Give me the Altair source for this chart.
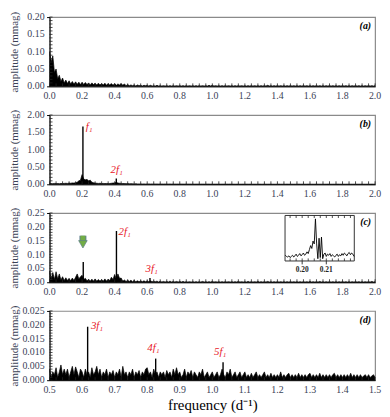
import altair as alt
import numpy as np
import pandas as pd

W, H = 329, 70
SERIF = "Liberation Serif"
LABEL_COLOR = "#3b4256"
RED = "#e8202a"

# ---------------- data ----------------
freq_abc = np.round(np.arange(0, 2.0001, 0.01), 3)
freq_d = np.round(np.arange(0.5, 1.5001, 0.005), 4)

amp_a = [
    0.100, 0.070, 0.088, 0.040, 0.050, 0.022, 0.032, 0.014, 0.024, 0.010,
    0.018, 0.008, 0.016, 0.007, 0.014, 0.006, 0.013, 0.006, 0.012, 0.005,
    0.012, 0.005, 0.011, 0.005, 0.010, 0.004, 0.010, 0.005, 0.009, 0.004,
    0.009, 0.004, 0.008, 0.004, 0.009, 0.003, 0.008, 0.004, 0.008, 0.003,
    0.008, 0.003, 0.007, 0.004, 0.008, 0.003, 0.007, 0.002, 0.005, 0.002,
    0.004, 0.002, 0.004, 0.001, 0.004, 0.002, 0.003, 0.001, 0.003, 0.002,
    0.003, 0.001, 0.003, 0.001, 0.002, 0.001, 0.003, 0.001, 0.002, 0.001,
    0.002, 0.001, 0.002, 0.001, 0.002, 0.001, 0.002, 0.001, 0.002, 0.001,
    0.002, 0.001, 0.002, 0.001, 0.002, 0.001, 0.002, 0.001, 0.002, 0.001,
    0.002, 0.001, 0.002, 0.001, 0.002, 0.001, 0.002, 0.001, 0.003, 0.001,
    0.003, 0.001, 0.002, 0.001, 0.002, 0.001, 0.002, 0.001, 0.002, 0.001,
    0.002, 0.001, 0.002, 0.001, 0.002, 0.001, 0.002, 0.001, 0.002, 0.001,
    0.002, 0.001, 0.002, 0.001, 0.002, 0.001, 0.002, 0.001, 0.002, 0.001,
    0.002, 0.001, 0.002, 0.001, 0.003, 0.001, 0.002, 0.001, 0.002, 0.001,
    0.002, 0.001, 0.002, 0.001, 0.002, 0.001, 0.002, 0.001, 0.002, 0.001,
    0.002, 0.001, 0.002, 0.001, 0.002, 0.001, 0.002, 0.001, 0.002, 0.001,
    0.002, 0.001, 0.002, 0.001, 0.002, 0.001, 0.002, 0.001, 0.002, 0.001,
    0.002, 0.001, 0.002, 0.001, 0.002, 0.001, 0.002, 0.001, 0.002, 0.001,
    0.002, 0.001, 0.002, 0.001, 0.002, 0.001, 0.002, 0.001, 0.002, 0.001,
    0.002, 0.001, 0.002, 0.001, 0.002, 0.001, 0.002, 0.001, 0.002, 0.001,
    0.002,
]

amp_b = [
    0.015, 0.020, 0.018, 0.025, 0.020, 0.022, 0.018, 0.024, 0.020, 0.026,
    0.030, 0.025, 0.035, 0.030, 0.040, 0.035, 0.045, 0.060, 0.100, 0.120,
    0.280, 0.150, 0.130, 0.140, 0.100, 0.120, 0.060, 0.045, 0.035, 0.030,
    0.025, 0.030, 0.022, 0.025, 0.020, 0.024, 0.020, 0.022, 0.030, 0.035,
    0.040, 0.060, 0.035, 0.030, 0.025, 0.020, 0.022, 0.018, 0.020, 0.015,
    0.018, 0.015, 0.012, 0.016, 0.012, 0.010, 0.012, 0.010, 0.011, 0.009,
    0.010, 0.012, 0.009, 0.010, 0.008, 0.010, 0.009, 0.008, 0.009, 0.008,
    0.008, 0.009, 0.007, 0.008, 0.009, 0.007, 0.008, 0.007, 0.008, 0.007,
    0.007, 0.008, 0.006, 0.007, 0.008, 0.006, 0.007, 0.006, 0.007, 0.006,
    0.006, 0.007, 0.006, 0.006, 0.007, 0.005, 0.006, 0.007, 0.006, 0.005,
    0.006, 0.005, 0.006, 0.005, 0.006, 0.005, 0.005, 0.006, 0.005, 0.005,
    0.005, 0.006, 0.005, 0.005, 0.004, 0.005, 0.005, 0.004, 0.005, 0.005,
    0.004, 0.005, 0.004, 0.005, 0.004, 0.004, 0.005, 0.004, 0.004, 0.005,
    0.004, 0.004, 0.005, 0.004, 0.004, 0.004, 0.005, 0.004, 0.004, 0.004,
    0.004, 0.005, 0.004, 0.004, 0.004, 0.004, 0.005, 0.004, 0.004, 0.004,
    0.004, 0.004, 0.004, 0.005, 0.004, 0.004, 0.004, 0.004, 0.004, 0.005,
    0.004, 0.004, 0.004, 0.004, 0.005, 0.004, 0.004, 0.004, 0.004, 0.004,
    0.004, 0.005, 0.004, 0.004, 0.004, 0.004, 0.004, 0.005, 0.004, 0.004,
    0.004, 0.004, 0.004, 0.004, 0.005, 0.004, 0.004, 0.004, 0.004, 0.004,
    0.004, 0.004, 0.005, 0.004, 0.004, 0.004, 0.004, 0.004, 0.005, 0.004,
    0.004,
]

amp_c = [
    0.040, 0.012, 0.035, 0.010, 0.038, 0.012, 0.030, 0.008, 0.020, 0.006,
    0.016, 0.006, 0.014, 0.005, 0.015, 0.006, 0.018, 0.030, 0.012, 0.020,
    0.025, 0.010, 0.014, 0.005, 0.011, 0.004, 0.011, 0.004, 0.012, 0.004,
    0.010, 0.004, 0.010, 0.004, 0.012, 0.004, 0.011, 0.006, 0.018, 0.010,
    0.028, 0.012, 0.030, 0.014, 0.015, 0.004, 0.008, 0.003, 0.007, 0.003,
    0.007, 0.002, 0.007, 0.002, 0.005, 0.002, 0.005, 0.002, 0.005, 0.002,
    0.005, 0.002, 0.005, 0.002, 0.004, 0.002, 0.004, 0.001, 0.004, 0.001,
    0.003, 0.001, 0.003, 0.001, 0.004, 0.001, 0.003, 0.001, 0.003, 0.001,
    0.003, 0.001, 0.003, 0.001, 0.002, 0.001, 0.002, 0.001, 0.002, 0.001,
    0.002, 0.001, 0.002, 0.001, 0.003, 0.001, 0.002, 0.001, 0.002, 0.001,
    0.003, 0.001, 0.002, 0.001, 0.002, 0.001, 0.002, 0.001, 0.002, 0.001,
    0.002, 0.001, 0.002, 0.001, 0.002, 0.001, 0.003, 0.001, 0.002, 0.001,
    0.002, 0.001, 0.003, 0.001, 0.002, 0.001, 0.002, 0.001, 0.003, 0.001,
    0.002, 0.001, 0.002, 0.001, 0.003, 0.001, 0.002, 0.001, 0.002, 0.001,
    0.002, 0.001, 0.002, 0.001, 0.002, 0.001, 0.002, 0.001, 0.002, 0.001,
    0.002, 0.001, 0.002, 0.001, 0.002, 0.001, 0.002, 0.001, 0.002, 0.001,
    0.003, 0.001, 0.002, 0.001, 0.002, 0.001, 0.003, 0.001, 0.002, 0.001,
    0.002, 0.001, 0.002, 0.001, 0.002, 0.001, 0.002, 0.001, 0.002, 0.001,
    0.002, 0.001, 0.002, 0.001, 0.002, 0.001, 0.002, 0.001, 0.002, 0.001,
    0.002, 0.001, 0.002, 0.001, 0.002, 0.001, 0.002, 0.001, 0.003, 0.001,
    0.002,
]

amp_d = [
    0.0040, 0.0010, 0.0030, 0.0020, 0.0045, 0.0010, 0.0030, 0.0055, 0.0020, 0.0040,
    0.0020, 0.0040, 0.0010, 0.0030, 0.0050, 0.0020, 0.0048, 0.0030, 0.0010, 0.0040,
    0.0030, 0.0010, 0.0040, 0.0020, 0.0030, 0.0010, 0.0045, 0.0020, 0.0030, 0.0050,
    0.0020, 0.0040, 0.0010, 0.0030, 0.0020, 0.0040, 0.0010, 0.0030, 0.0020, 0.0035,
    0.0010, 0.0030, 0.0020, 0.0040, 0.0010, 0.0050, 0.0020, 0.0030, 0.0010, 0.0030,
    0.0020, 0.0040, 0.0010, 0.0030, 0.0020, 0.0035, 0.0010, 0.0030, 0.0020, 0.0040,
    0.0045, 0.0020, 0.0030, 0.0010, 0.0040, 0.0020, 0.0030, 0.0010, 0.0030, 0.0020,
    0.0030, 0.0010, 0.0035, 0.0020, 0.0030, 0.0010, 0.0040, 0.0020, 0.0045, 0.0020,
    0.0030, 0.0010, 0.0020, 0.0040, 0.0010, 0.0030, 0.0020, 0.0035, 0.0010, 0.0030,
    0.0020, 0.0010, 0.0030, 0.0020, 0.0040, 0.0010, 0.0020, 0.0030, 0.0010, 0.0020,
    0.0030, 0.0010, 0.0020, 0.0030, 0.0010, 0.0020, 0.0040, 0.0020, 0.0010, 0.0030,
    0.0020, 0.0040, 0.0010, 0.0020, 0.0030, 0.0010, 0.0020, 0.0030, 0.0010, 0.0020,
    0.0030, 0.0010, 0.0020, 0.0010, 0.0025, 0.0010, 0.0020, 0.0030, 0.0010, 0.0020,
    0.0010, 0.0020, 0.0030, 0.0010, 0.0020, 0.0010, 0.0025, 0.0010, 0.0020, 0.0010,
    0.0020, 0.0010, 0.0030, 0.0010, 0.0020, 0.0010, 0.0020, 0.0025, 0.0010, 0.0020,
    0.0010, 0.0020, 0.0010, 0.0025, 0.0010, 0.0020, 0.0010, 0.0020, 0.0010, 0.0020,
    0.0025, 0.0010, 0.0020, 0.0010, 0.0020, 0.0010, 0.0025, 0.0010, 0.0020, 0.0010,
    0.0020, 0.0010, 0.0020, 0.0010, 0.0020, 0.0025, 0.0010, 0.0020, 0.0010, 0.0020,
    0.0010, 0.0020, 0.0010, 0.0020, 0.0010, 0.0025, 0.0010, 0.0020, 0.0010, 0.0020,
    0.0010, 0.0020, 0.0010, 0.0015, 0.0020, 0.0010, 0.0020, 0.0010, 0.0015, 0.0020,
    0.0010,
]

# peaks (frequency, amplitude)
peak_b_f = [0.205, 0.410]
peak_b_a = [1.67, 0.17]
peak_c_f = [0.207, 0.411, 0.617]
peak_c_a = [0.073, 0.185, 0.015]
peak_d_f = [0.617, 0.826, 1.033]
peak_d_a = [0.0193, 0.0078, 0.0065]

# labels (text, frequency, amplitude)
lab_b = ["f₁", "2f₁"]
lab_b_f = [0.222, 0.375]
lab_b_a = [1.64, 0.40]
lab_c = ["2f₁", "3f₁"]
lab_c_f = [0.424, 0.590]
lab_c_a = [0.180, 0.047]
lab_d = ["3f₁", "4f₁", "5f₁"]
lab_d_f = [0.627, 0.800, 1.005]
lab_d_a = [0.0195, 0.0117, 0.0103]

# arrow in panel (c)
arrow_f = 0.205
arrow_top = 0.168
arrow_mid = 0.145
arrow_head = 0.137

# inset of panel (c)
inset_f = list(np.round(np.arange(0.1930, 0.22151, 0.0005), 4))
inset_a = [
    0.010, 0.008, 0.007, 0.009, 0.006, 0.008, 0.010, 0.007, 0.009, 0.012,
    0.008, 0.010, 0.013, 0.009, 0.011, 0.014, 0.010, 0.012, 0.016, 0.013,
    0.020, 0.027, 0.022, 0.035, 0.030, 0.074, 0.030, 0.004, 0.040, 0.006,
    0.042, 0.004, 0.012, 0.014, 0.008, 0.012, 0.010, 0.013, 0.008, 0.011,
    0.009, 0.007, 0.010, 0.012, 0.008, 0.011, 0.009, 0.013, 0.010, 0.014,
    0.012, 0.009, 0.013, 0.015, 0.011, 0.014, 0.012, 0.008,
]
inset_dom_x = [0.1929, 0.2216]
inset_dom_y = [0.0, 0.08]
inset_ticks = [0.20, 0.21]

# tick labels
xticks_abc = [round(0.2 * i, 1) for i in range(11)]
xticks_d = [round(0.5 + 0.1 * i, 1) for i in range(11)]
yticks_a = [0.00, 0.05, 0.10, 0.15, 0.20]
yticks_b = [0.00, 0.50, 1.00, 1.50, 2.00]
yticks_c = [0.00, 0.05, 0.10, 0.15, 0.20, 0.25]
yticks_d = [0.000, 0.005, 0.010, 0.015, 0.020, 0.025]


def panel(freqs, amps, pf, pa, lab, lf, la, xdom, ydom, xticks, yticks,
          yfmt, xminor, yminor, tag, xtitle=False, extra=None):
    sx = alt.Scale(domain=xdom, nice=False, zero=False)
    sy = alt.Scale(domain=ydom, nice=False)
    xaxis_kw = dict(labels=False, ticks=False, domainColor="black")
    if xtitle:
        xaxis_kw.update(title="frequency (d⁻¹)", titleFontSize=15,
                        titleFont=SERIF, titleFontWeight="normal",
                        titleColor="black", titlePadding=18)
    else:
        xaxis_kw.update(title="")
    yaxis = alt.Axis(values=yticks, labels=False, title="amplitude (mmag)",
                     titleFont=SERIF, titleFontSize=11, titleFontWeight="normal",
                     titleColor=LABEL_COLOR, titleX=-30, tickSize=3,
                     tickColor="black", domainColor="black")
    noise = pd.DataFrame({"f": freqs, "a": amps})
    area = alt.Chart(noise).mark_area(color="black", interpolate="linear").encode(
        x=alt.X("f:Q", scale=sx, axis=alt.Axis(**xaxis_kw)),
        y=alt.Y("a:Q", scale=sy, axis=yaxis),
    )
    line = alt.Chart(noise).mark_line(color="black", strokeWidth=0.7).encode(
        x="f:Q", y="a:Q")
    layers = [area, line]
    if pf:
        layers.append(
            alt.Chart(pd.DataFrame({"f": pf, "a": pa})).mark_rule(
                color="black", strokeWidth=1.4).encode(
                x="f:Q", y="a:Q", y2=alt.datum(0)))
    if lab:
        layers.append(
            alt.Chart(pd.DataFrame({"f": lf, "a": la, "l": lab})).mark_text(
                color=RED, font=SERIF, fontStyle="italic", fontSize=11,
                align="left", baseline="middle").encode(
                x="f:Q", y="a:Q", text="l:N"))
    # tick labels drawn from the tick lists
    layers.append(
        alt.Chart(pd.DataFrame({"v": xticks, "l": [f"{v:.1f}" for v in xticks]})).mark_text(
            font=SERIF, fontSize=10, color=LABEL_COLOR, baseline="middle",
            align="center").encode(x="v:Q", y=alt.value(H + 10), text="l:N"))
    layers.append(
        alt.Chart(pd.DataFrame({"v": yticks, "l": [format(v, yfmt) for v in yticks]})).mark_text(
            font=SERIF, fontSize=10, color=LABEL_COLOR, baseline="middle",
            align="right").encode(y="v:Q", x=alt.value(-5), text="l:N"))
    layers.append(
        alt.Chart(pd.DataFrame({"t": xminor})).mark_rule(color="#222", strokeWidth=0.8).encode(
            x="t:Q", y=alt.value(H), y2=alt.value(H - 3)))
    layers.append(
        alt.Chart(pd.DataFrame({"t": yminor})).mark_rule(color="#222", strokeWidth=0.8).encode(
            y="t:Q", x=alt.value(0), x2=alt.value(3)))
    layers.append(
        alt.Chart(pd.DataFrame({"t": [tag]})).mark_text(
            font=SERIF, fontStyle="italic", fontWeight="bold", fontSize=10,
            align="right", baseline="top", color="black").encode(
            x=alt.value(W - 4), y=alt.value(4), text="t:N"))
    if extra:
        layers.extend(extra)
    return alt.layer(*layers)


minor_abc = list(np.round(np.arange(0, 2.0001, 0.04), 3))
minor_d = list(np.round(np.arange(0.5, 1.5001, 0.02), 3))

pa = panel(freq_abc, amp_a, None, None, None, None, None, [0, 2], [0, 0.2],
           xticks_abc, yticks_a, ".2f", minor_abc,
           list(np.round(np.arange(0, 0.2001, 0.01), 3)), "(a)")
pb = panel(freq_abc, amp_b, peak_b_f, peak_b_a, lab_b, lab_b_f, lab_b_a,
           [0, 2], [0, 2.0], xticks_abc, yticks_b, ".2f",
           minor_abc, list(np.round(np.arange(0, 2.001, 0.1), 2)), "(b)")

GREEN = "#72ad45"
arrow_layers = [
    alt.Chart(pd.DataFrame({"f": [arrow_f], "a": [arrow_top], "b": [arrow_mid]})).mark_rule(
        color="#5f7f8c", strokeWidth=7).encode(x="f:Q", y="a:Q", y2="b:Q"),
    alt.Chart(pd.DataFrame({"f": [arrow_f], "a": [arrow_top], "b": [arrow_mid]})).mark_rule(
        color=GREEN, strokeWidth=5).encode(x="f:Q", y="a:Q", y2="b:Q"),
    alt.Chart(pd.DataFrame({"f": [arrow_f], "a": [arrow_head]})).mark_point(
        shape="triangle-down", filled=True, fill=GREEN, stroke="#5f7f8c",
        strokeWidth=0.7, size=75, opacity=1).encode(x="f:Q", y="a:Q"),
]
pc_main = panel(freq_abc, amp_c, peak_c_f, peak_c_a, lab_c, lab_c_f, lab_c_a,
                [0, 2], [0, 0.25], xticks_abc, yticks_c,
                ".2f", minor_abc, list(np.round(np.arange(0, 0.2501, 0.01), 3)),
                "(c)", extra=arrow_layers)

# inset
isx = alt.Scale(domain=inset_dom_x, range=[238, 308], nice=False, zero=False)
isy = alt.Scale(domain=inset_dom_y, range=[48.5, 2.5], nice=False, zero=False)
box = alt.Chart(pd.DataFrame({"x0": [inset_dom_x[0]], "x1": [inset_dom_x[1]],
                              "y0": [inset_dom_y[0]], "y1": [inset_dom_y[1]]})).mark_rect(
    fill="white", stroke="#333", strokeWidth=1).encode(
    x=alt.X("x0:Q", scale=isx, axis=None), x2="x1:Q",
    y=alt.Y("y0:Q", scale=isy, axis=None), y2="y1:Q")
iline = alt.Chart(pd.DataFrame({"f": inset_f, "a": inset_a})).mark_line(
    color="black", strokeWidth=0.9).encode(x="f:Q", y="a:Q")
iminor = list(np.round(np.arange(0.195, 0.2216, 0.0025), 4))
itop = alt.Chart(pd.DataFrame({"t": iminor, "a": [0.08] * len(iminor),
                               "b": [0.0755] * len(iminor)})).mark_rule(
    color="#222", strokeWidth=0.8).encode(x="t:Q", y="a:Q", y2="b:Q")
ibot = alt.Chart(pd.DataFrame({"t": iminor, "a": [0.0] * len(iminor),
                               "b": [0.0045] * len(iminor)})).mark_rule(
    color="#222", strokeWidth=0.8).encode(x="t:Q", y="a:Q", y2="b:Q")
imajor = alt.Chart(pd.DataFrame({"t": inset_ticks, "a": [0.0, 0.0],
                                 "b": [-0.006, -0.006]})).mark_rule(
    color="#222", strokeWidth=0.9).encode(x="t:Q", y="a:Q", y2="b:Q")
ilabels = alt.Chart(pd.DataFrame({"t": inset_ticks, "a": [-0.0085, -0.0085],
                                  "l": ["0.20", "0.21"]})).mark_text(
    font=SERIF, fontSize=7.5, fontWeight="bold", baseline="top",
    color="#222").encode(x="t:Q", y="a:Q", text="l:N")
inset = alt.layer(box, iline, itop, ibot, imajor, ilabels)

pc = alt.layer(pc_main, inset).resolve_scale(x="independent", y="independent")

pd_ = panel(freq_d, amp_d, peak_d_f, peak_d_a, lab_d, lab_d_f, lab_d_a,
            [0.5, 1.5], [0, 0.025], xticks_d, yticks_d, ".3f", minor_d,
            list(np.round(np.arange(0, 0.02501, 0.001), 4)), "(d)", xtitle=True)

chart = alt.vconcat(
    pa.properties(width=W, height=H),
    pb.properties(width=W, height=H),
    pc.properties(width=W, height=H),
    pd_.properties(width=W, height=H),
    spacing=29,
    bounds="flush",
).properties(
    padding={"left": 0, "top": 0, "right": 0, "bottom": 0},
).configure_view(
    stroke="#8a8a8a", strokeWidth=1.2
).configure_axis(
    grid=False
)

chart.save("out.html", embed_options={"renderer": "svg", "actions": False})
